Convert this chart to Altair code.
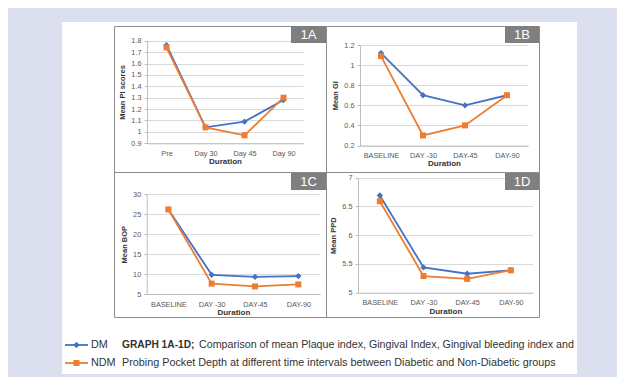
import altair as alt
import pandas as pd

# ---------------- data ----------------
series = ["DM", "NDM"]
cat_a = ["Pre", "Day 30", "Day 45", "Day 90"]
cat_bcd = ["BASELINE", "DAY -30", "DAY-45", "DAY-90"]

dm_pi = [1.76, 1.04, 1.09, 1.28]
ndm_pi = [1.74, 1.04, 0.97, 1.30]
dm_gi = [1.12, 0.70, 0.60, 0.70]
ndm_gi = [1.09, 0.30, 0.40, 0.70]
dm_bop = [26.2, 9.8, 9.3, 9.5]
ndm_bop = [26.2, 7.6, 6.9, 7.4]
dm_ppd = [6.69, 5.44, 5.33, 5.39]
ndm_ppd = [6.59, 5.29, 5.24, 5.39]

ticks_pi = [0.9, 1.0, 1.1, 1.2, 1.3, 1.4, 1.5, 1.6, 1.7, 1.8]
ticks_gi = [0.2, 0.4, 0.6, 0.8, 1.0, 1.2]
ticks_bop = [5, 10, 15, 20, 25, 30]
ticks_ppd = [5, 5.5, 6, 6.5, 7]

panel_labels = ["1A", "1B", "1C", "1D"]
y_titles = ["Mean PI scores", "Mean GI", "Mean BOP", "Mean PPD"]
x_title = "Duration"
caption_bold = "GRAPH 1A-1D;"
caption_1 = "Comparison of mean Plaque index, Gingival Index,  Gingival bleeding index and"
caption_2 = "Probing Pocket Depth at different time intervals between Diabetic and Non-Diabetic groups"

# ---------------- style / layout ----------------
W, H = 515, 352
FONT = "Liberation Sans"
BLUE, ORANGE = "#4472C4", "#ED7D31"
color_scale = alt.Scale(domain=series, range=[BLUE, ORANGE])
one = pd.DataFrame({"k": [0]})

# plot rectangles of the panels (x0, x1, ybottom, ytop) in plot coords
geo = [
    (85, 241, 121.3, 18.7),
    (298, 466, 123.5, 23),
    (84.7, 258, 272, 172.3),
    (296, 470.7, 270.7, 155.7),
]


def points(base, shape_dm="diamond", shape_ndm="square", **kw):
    p1 = base.transform_filter(alt.datum.series == series[0]).mark_point(
        shape=shape_dm, filled=True, size=40, opacity=1, **kw)
    p2 = base.transform_filter(alt.datum.series == series[1]).mark_point(
        shape=shape_ndm, filled=True, size=36, opacity=1, **kw)
    return p1, p2


def panel(cats, dm, ndm, ticks, ytitle, g):
    x0, x1, yb, yt = g
    df = pd.DataFrame({
        "cat": cats + cats,
        "val": dm + ndm,
        "series": [series[0]] * len(cats) + [series[1]] * len(cats),
    })
    x = alt.X(
        "cat:N", sort=cats,
        scale=alt.Scale(type="point", domain=cats, range=[x0, x1], padding=0.5),
        axis=alt.Axis(orient="bottom", offset=-(H - yb), labelAngle=0, ticks=False,
                      domainColor="#bfbfbf", labelFont=FONT, labelFontSize=7.3,
                      labelColor="#595959", labelPadding=6, grid=False,
                      title=x_title, titleFont=FONT, titleFontSize=8,
                      titleFontWeight="bold", titleColor="#333333", titlePadding=1),
    )
    y = alt.Y(
        "val:Q",
        scale=alt.Scale(domain=[ticks[0], ticks[-1]], range=[yb, yt], zero=False, nice=False),
        axis=alt.Axis(orient="left", offset=-x0, values=ticks, format="~g", grid=True,
                      gridColor="#d9d9d9", domainColor="#bfbfbf", tickColor="#bfbfbf",
                      tickSize=3, labelFont=FONT, labelFontSize=7.3, labelColor="#595959",
                      labelPadding=3, title=ytitle, titleFont=FONT, titleFontSize=7.5,
                      titleFontWeight="bold", titleColor="#333333", titlePadding=4),
    )
    color = alt.Color("series:N", scale=color_scale, legend=None)
    base = alt.Chart(df).encode(x=x, y=y, color=color)
    line = base.mark_line(strokeWidth=1.8)
    p1, p2 = points(base)
    return alt.layer(line, p1, p2)


def box(x1, x2, y1, y2, **kw):
    return alt.Chart(one).mark_rect(**kw).encode(
        x=alt.value(x1), x2=alt.value(x2), y=alt.value(y1), y2=alt.value(y2))


def label(txt, x, y, **kw):
    return alt.Chart(one).mark_text(text=txt, **kw).encode(x=alt.value(x), y=alt.value(y))


decor = [
    box(52.5, 264.5, 4.5, 150.5, filled=False, stroke="#8c8c8c", strokeWidth=1),
    box(264.5, 477.5, 4.5, 150.5, filled=False, stroke="#8c8c8c", strokeWidth=1),
    box(52.5, 264.5, 150.5, 295.5, filled=False, stroke="#8c8c8c", strokeWidth=1),
    box(264.5, 477.5, 150.5, 295.5, filled=False, stroke="#8c8c8c", strokeWidth=1),
]
tag_boxes = [(229, 264, 4, 21), (443, 477, 4, 21), (229, 264, 151, 168), (443, 477, 151, 168)]
for lab, (a, b, c, d) in zip(panel_labels, tag_boxes):
    decor.append(box(a, b, c, d, color="#7f7f7f"))
    decor.append(label(lab, (a + b) / 2, (c + d) / 2 + 0.5, color="white", fontSize=13,
                       font=FONT, align="center", baseline="middle"))

panels = [
    panel(cat_a, dm_pi, ndm_pi, ticks_pi, y_titles[0], geo[0]),
    panel(cat_bcd, dm_gi, ndm_gi, ticks_gi, y_titles[1], geo[1]),
    panel(cat_bcd, dm_bop, ndm_bop, ticks_bop, y_titles[2], geo[2]),
    panel(cat_bcd, dm_ppd, ndm_ppd, ticks_ppd, y_titles[3], geo[3]),
]

# ---------------- legend (line + marker + name per series) ----------------
leg_df = pd.DataFrame({"series": series})
ly = alt.Y("series:N", scale=alt.Scale(type="point", domain=series, range=[323, 341], padding=0),
           axis=None)
lcol = alt.Color("series:N", scale=color_scale, legend=None)
leg_base = alt.Chart(leg_df).encode(y=ly, color=lcol)
leg_line = leg_base.mark_rule(strokeWidth=1.8).encode(x=alt.value(3), x2=alt.value(26))
lp1, lp2 = points(leg_base.encode(x=alt.value(14.5)))
leg_text = alt.Chart(leg_df).mark_text(
    align="left", baseline="middle", font=FONT, fontSize=10.8, color="#333333"
).encode(x=alt.value(29), y=ly, text="series:N")
legend_layer = alt.layer(leg_line, lp1, lp2, leg_text)

caption = [
    label(caption_bold, 60, 323, font=FONT, fontSize=10.2, fontWeight="bold",
          color="#333333", align="left", baseline="middle"),
    label(caption_1, 137, 323, font=FONT, fontSize=10.7, color="#333333",
          align="left", baseline="middle"),
    label(caption_2, 60, 341, font=FONT, fontSize=10.8, color="#333333",
          align="left", baseline="middle"),
]

chart = alt.layer(*decor, *panels, legend_layer, *caption).resolve_scale(
    x="independent", y="independent"
).properties(
    width=W, height=H,
    autosize=alt.AutoSizeParams(type="none"),
    padding={"left": 54, "top": 14, "right": 40, "bottom": 3},
).configure(background="#dcdfee").configure_view(fill="white", stroke=None)

chart.save("out.html", embed_options={"renderer": "svg", "actions": False})
